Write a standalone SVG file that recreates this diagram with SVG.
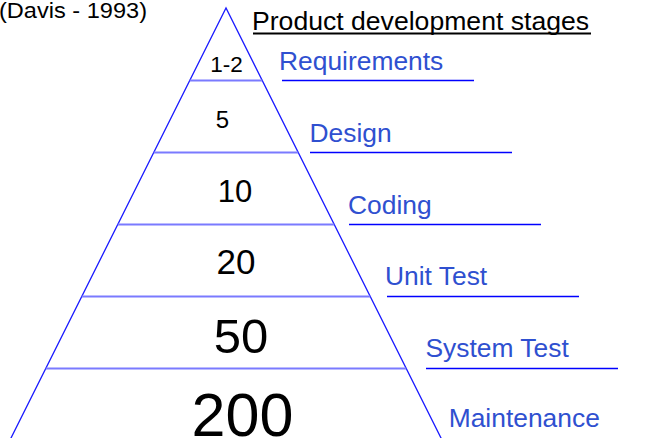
<svg xmlns="http://www.w3.org/2000/svg" width="664" height="438" viewBox="0 0 664 438">
<style>
text{font-family:"Liberation Sans",Arial,sans-serif}
.num{fill:#000;text-anchor:middle}
.lbl{fill:#2f50d0;font-size:26.4px}
.ul{stroke:#0000ff;stroke-width:1.3}
.div{stroke:#7a7aff;stroke-width:1.8}
.side{stroke:#1a1aff;stroke-width:1.3;fill:none}
</style>
<rect width="664" height="438" fill="#fff"/>
<g id="citation"><text x="-1" y="17.5" font-size="22" textLength="148" lengthAdjust="spacingAndGlyphs" fill="#000">(Davis - 1993)</text></g>
<g id="title"><text x="252" y="30" font-size="26.6" fill="#000">Product development stages</text><line x1="253" y1="33.5" x2="591" y2="33.5" stroke="#000" stroke-width="2"/></g>
<g id="pyramid">
<polyline class="side" points="10,440 226,8 442,440"/>
</g>
<g id="connectors">
<line class="div" x1="189.75" y1="80.5" x2="262.25" y2="80.5"/>
<line class="div" x1="153.75" y1="152.5" x2="298.25" y2="152.5"/>
<line class="div" x1="117.75" y1="224.5" x2="334.25" y2="224.5"/>
<line class="div" x1="81.75" y1="296.5" x2="370.25" y2="296.5"/>
<line class="div" x1="45.75" y1="368.5" x2="406.25" y2="368.5"/>
</g>
<g id="tier-requirements"><text class="num" x="226.5" y="71.5" font-size="22.5">1-2</text><text class="lbl" x="279" y="70">Requirements</text><line class="ul" x1="282" y1="80.5" x2="474" y2="80.5"/></g>
<g id="tier-design"><text class="num" x="222.5" y="128" font-size="24">5</text><text class="lbl" x="309.5" y="142.3">Design</text><line class="ul" x1="310" y1="152.5" x2="512" y2="152.5"/></g>
<g id="tier-coding"><text class="num" x="235" y="201.5" font-size="31">10</text><text class="lbl" x="348" y="214.3">Coding</text><line class="ul" x1="349" y1="224.5" x2="541" y2="224.5"/></g>
<g id="tier-unit-test"><text class="num" x="236" y="273.5" font-size="35">20</text><text class="lbl" x="385" y="285">Unit Test</text><line class="ul" x1="387" y1="296.5" x2="579" y2="296.5"/></g>
<g id="tier-system-test"><text class="num" x="241" y="353" font-size="49">50</text><text class="lbl" x="425.5" y="356.7">System Test</text><line class="ul" x1="426" y1="368.5" x2="618" y2="368.5"/></g>
<g id="tier-maintenance"><text class="num" x="242.5" y="435.5" font-size="61">200</text><text class="lbl" x="448.7" y="427.3">Maintenance</text></g>
</svg>
